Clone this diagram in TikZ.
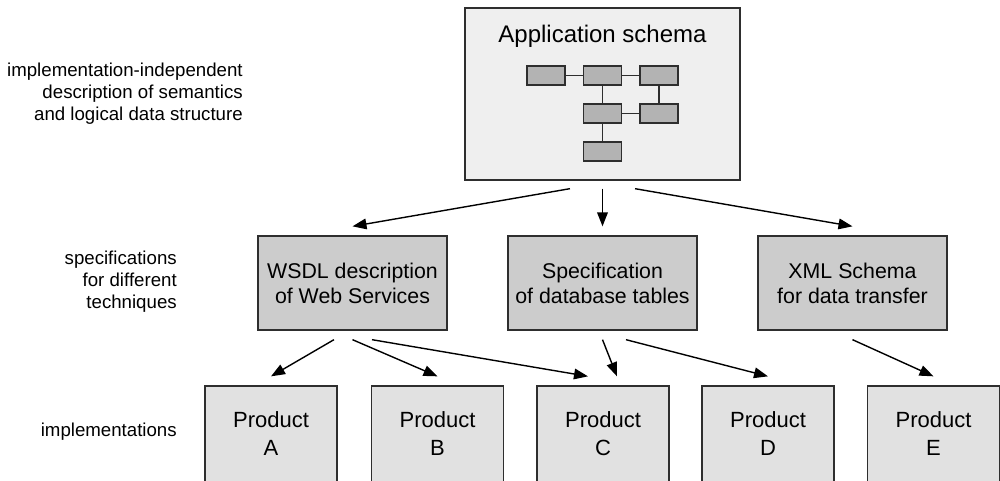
\documentclass[tikz,border=0pt]{standalone}
\usepackage{fontspec}
\setmainfont{Liberation Sans}
\usetikzlibrary{arrows.meta}

\definecolor{lightfill}{HTML}{EFEFEF}
\definecolor{classfill}{HTML}{B3B3B3}
\definecolor{specfill}{HTML}{CCCCCC}
\definecolor{prodfill}{HTML}{E1E1E1}
\definecolor{edgecol}{HTML}{2E2E2E}

\begin{document}
\begin{tikzpicture}[x=0.75pt, y=-0.75pt,
    box/.style={draw=edgecol, line width=1pt, inner sep=0pt},
    cls/.style={box, fill=classfill, minimum width=28.5pt, minimum height=14.25pt},
    spec/.style={box, fill=specfill, minimum width=141.75pt, minimum height=70.5pt,
        align=center, font=\fontsize{16}{18.75}\selectfont},
    prod/.style={box, fill=prodfill, minimum width=99pt, minimum height=72pt,
        align=center, font=\fontsize{16.5}{21}\selectfont},
    side/.style={anchor=east, align=right, inner sep=0pt, font=\fontsize{14}{16.5}\selectfont},
    arr/.style={-{Triangle[length=10.5pt, width=8pt]}, line width=1.05pt, draw=black},
    link/.style={line width=0.8pt, draw=edgecol}]

    \useasboundingbox (0,0) rectangle (1000,480);
    \fill[white] (0,0) rectangle (1000,480);
    \clip (0,0) rectangle (1000,480);

    % application schema
    \node[box, fill=lightfill, minimum width=206.25pt, minimum height=129pt] (app) at (602.5,94) {};
    \node[font=\fontsize{18}{21}\selectfont] (apptitle) at (602.5,36) {Application schema};
    \node[cls] (c1) at (546,75.5) {};
    \node[cls] (c2) at (602.5,75.5) {};
    \node[cls] (c3) at (659,75.5) {};
    \node[cls] (c4) at (602.5,113.5) {};
    \node[cls] (c5) at (659,113.5) {};
    \node[cls] (c6) at (602.5,151.5) {};
    \draw[link] (c1) -- (c2);
    \draw[link] (c2) -- (c3);
    \draw[link] (c2) -- (c4);
    \draw[link] (c3) -- (c5);
    \draw[link] (c4) -- (c5);
    \draw[link] (c4) -- (c6);

    % specifications
    \node[spec] (wsdl) at (352.5,283) {WSDL description\\of Web Services};
    \node[spec] (dbspec) at (602.5,283) {Specification\\of database tables};
    \node[spec] (xmlspec) at (852.5,283) {XML Schema\\for data transfer};

    \draw[arr] ([xshift=-24.4pt, yshift=-6pt]app.south) -- ([yshift=6.75pt]wsdl.north);
    \draw[arr] ([yshift=-6pt]app.south) -- ([yshift=6.75pt]dbspec.north);
    \draw[arr] ([xshift=24.4pt, yshift=-6pt]app.south) -- ([yshift=6.75pt]xmlspec.north);

    % implementations
    \node[prod] (pa) at (271,434) {Product\\A};
    \node[prod] (pb) at (437.5,434) {Product\\B};
    \node[prod] (pc) at (603,434) {Product\\C};
    \node[prod] (pd) at (768,434) {Product\\D};
    \node[prod] (pe) at (933.5,434) {Product\\E};

    \draw[arr] ([xshift=-13.9pt, yshift=-6.75pt]wsdl.south) -- ([yshift=6.75pt]pa.north);
    \draw[arr] ([yshift=-6.75pt]wsdl.south) -- ([yshift=6.75pt]pb.north);
    \draw[arr] ([xshift=14.6pt, yshift=-6.75pt]wsdl.south) -- ([xshift=-11.25pt, yshift=6.75pt]pc.north);
    \draw[arr] ([yshift=-6.75pt]dbspec.south) -- ([xshift=10.5pt, yshift=6.75pt]pc.north);
    \draw[arr] ([xshift=17.6pt, yshift=-6.75pt]dbspec.south) -- ([yshift=6.75pt]pd.north);
    \draw[arr] ([yshift=-6.75pt]xmlspec.south) -- ([yshift=6.75pt]pe.north);

    % level captions
    \node[side] (lvlschema) at (243,94) {implementation-independent\\description of semantics\\and logical data structure};
    \node[side] (lvlspec) at (177,282) {specifications\\for different\\techniques};
    \node[side] (lvlimpl) at (177,432) {implementations};
\end{tikzpicture}
\end{document}
